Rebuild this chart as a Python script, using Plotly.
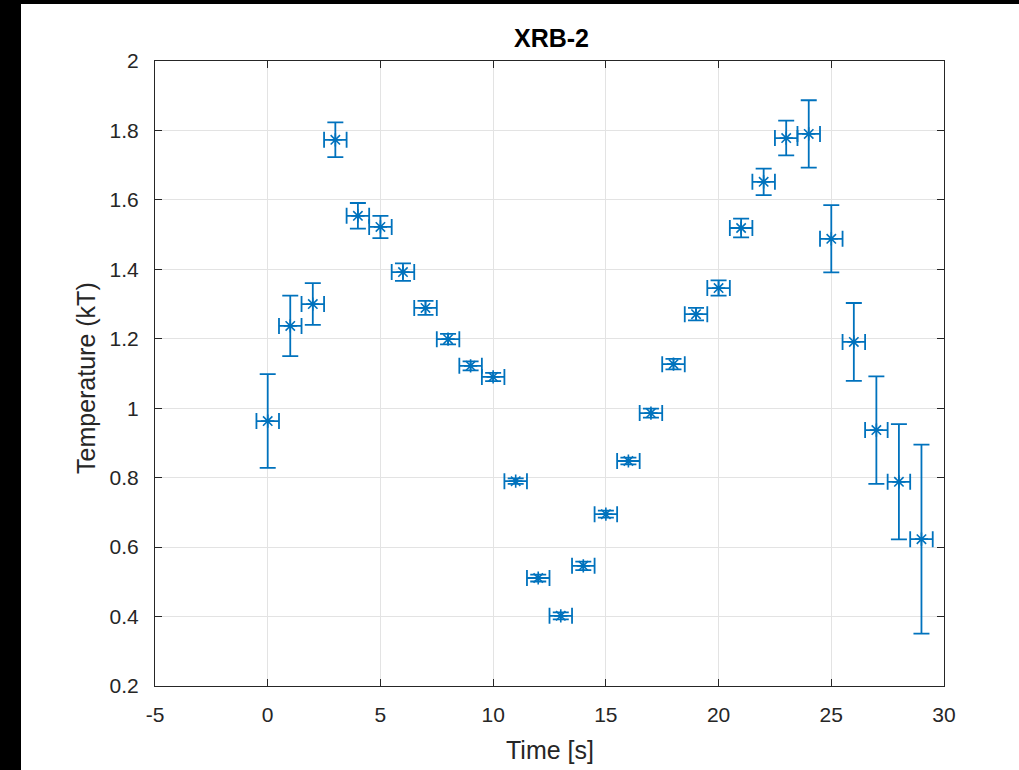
import plotly.graph_objects as go

time_s = list(range(30))
temperature = [0.963, 1.237, 1.30, 1.773, 1.554, 1.522, 1.392, 1.289, 1.199, 1.122,
               1.090, 0.790, 0.511, 0.402, 0.546, 0.695, 0.848, 0.986, 1.127, 1.271,
               1.346, 1.519, 1.652, 1.778, 1.790, 1.488, 1.191, 0.937, 0.788, 0.623]
temp_err = [0.135, 0.087, 0.06, 0.05, 0.037, 0.032, 0.025, 0.02, 0.015, 0.013,
            0.012, 0.008, 0.01, 0.01, 0.012, 0.01, 0.01, 0.013, 0.015, 0.018,
            0.022, 0.027, 0.038, 0.05, 0.097, 0.097, 0.112, 0.155, 0.166, 0.272]
time_err = [0.5] * 30

x_ticks = [-5, 0, 5, 10, 15, 20, 25, 30]
y_ticks = [0.2, 0.4, 0.6, 0.8, 1.0, 1.2, 1.4, 1.6, 1.8, 2.0]
y_ticktext = ["0.2", "0.4", "0.6", "0.8", "1", "1.2", "1.4", "1.6", "1.8", "2"]

blue = "#0072BD"
axc = "#262626"
FONT = "Liberation Sans, Arial"

fig = go.Figure()
fig.add_trace(go.Scatter(
    x=time_s, y=temperature, mode="markers",
    marker=dict(symbol="asterisk-open", size=11, color=blue, line=dict(color=blue, width=1.6)),
    error_y=dict(type="data", array=temp_err, visible=True, width=8, thickness=1.8, color=blue),
    error_x=dict(type="data", array=time_err, visible=True, width=8, thickness=1.8, color=blue),
    showlegend=False,
))

W, H = 1019, 770
L, R, T, B = 155, 944, 61, 686
pw, ph = R - L, B - T

def px(xp):
    return (xp - L) / pw

def py(yp):
    return (B - yp) / ph

fig.add_shape(type="rect", xref="paper", yref="paper",
              x0=px(21), x1=px(1019), y0=py(770), y1=py(4),
              fillcolor="white", line=dict(width=0), layer="below")

axis_common = dict(
    showline=True, linecolor=axc, linewidth=1, mirror="ticks",
    ticks="inside", ticklen=7, tickcolor=axc, tickwidth=1,
    showgrid=True, gridcolor="#e3e3e3", gridwidth=1, zeroline=False,
    tickfont=dict(family=FONT, size=21, color=axc),
)

fig.update_xaxes(range=[-5, 30], tickvals=x_ticks, ticktext=[str(v) for v in x_ticks],
                 ticklabelstandoff=10, **axis_common)
fig.update_yaxes(range=[0.2, 2.0], tickvals=y_ticks, ticktext=y_ticktext,
                 ticklabelstandoff=11, **axis_common)

fig.add_annotation(text="Time [s]", xref="paper", yref="paper", x=px(550), y=py(750),
                   xanchor="center", yanchor="middle", showarrow=False,
                   font=dict(family=FONT, size=25, color=axc))
fig.add_annotation(text="Temperature (kT)", xref="paper", yref="paper", x=px(86), y=py(378),
                   xanchor="center", yanchor="middle", showarrow=False, textangle=-90,
                   font=dict(family=FONT, size=25, color=axc))
fig.add_annotation(text="<b>XRB-2</b>", xref="paper", yref="paper", x=px(551), y=py(38),
                   xanchor="center", yanchor="middle", showarrow=False,
                   font=dict(family=FONT, size=25, color="black"))

fig.update_layout(
    width=W, height=H,
    margin=dict(l=L, r=W - R, t=T, b=H - B, pad=0),
    paper_bgcolor="black", plot_bgcolor="white",
)

fig.write_html("out.html")
